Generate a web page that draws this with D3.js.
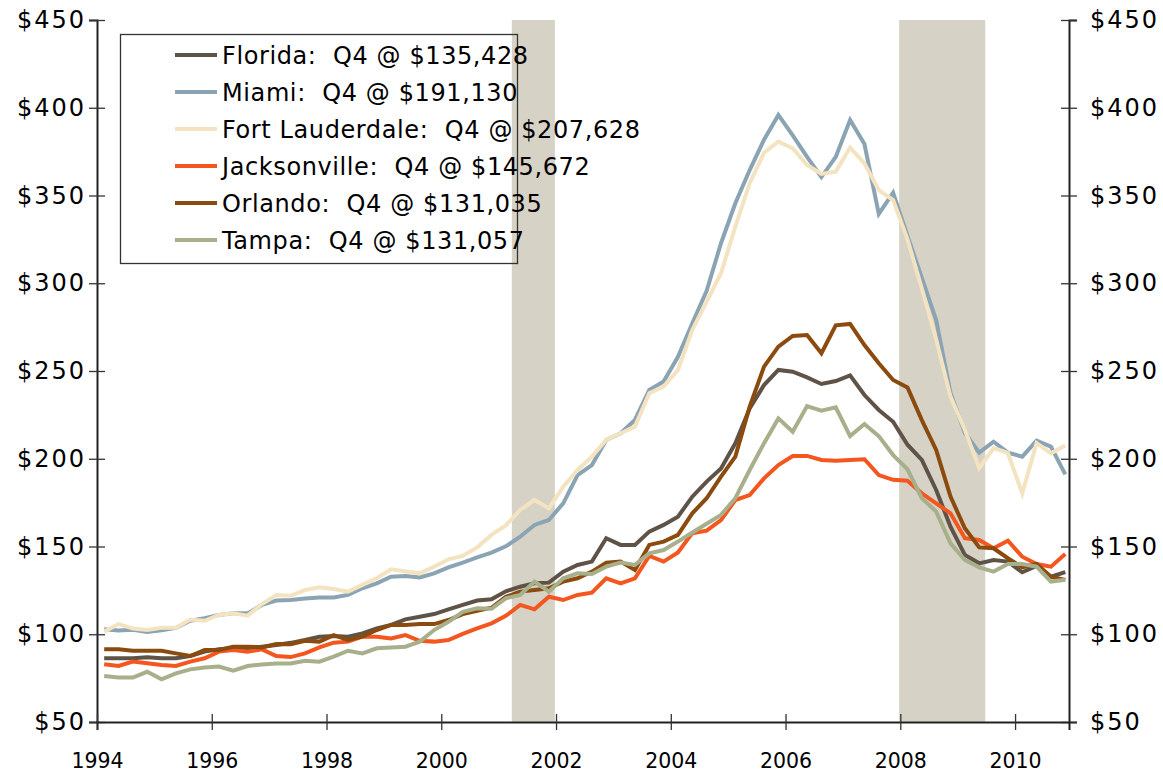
<!DOCTYPE html>
<html>
<head>
<meta charset="utf-8">
<script src="https://cdn.jsdelivr.net/npm/d3@7"></script>
<style>
  body { margin: 0; background: #fff; }
  svg text { font-family: "DejaVu Sans", Verdana, sans-serif; fill: #000; }
</style>
</head>
<body>
<svg id="chart" width="1163" height="779"></svg>
<script>
// quarterly median prices, $ thousands, 1994 Q1 .. 2010 Q4
const florida = [86.3, 86.3, 86.3, 86.9, 86.3, 86.3, 87.6, 90.1, 91.4, 92, 92, 92.9, 93.9, 95.1, 96.7, 98.6,
  99, 98.6, 100.5, 103.3, 105.3, 108.5, 110, 111.5, 114.2, 116.7, 119.2, 119.9, 124.5, 127.1, 129, 129.4,
  135.7, 139.5, 141.4, 154.7, 150.9, 150.9, 158.5, 162.3, 167, 178.4, 187, 194.5, 208.8, 228.7, 242, 250.6,
  249.6, 246.4, 242.6, 244.3, 247.5, 236.3, 227.8, 221.1, 208, 199.3, 182.2, 161.3, 145.2, 140.4, 142.3, 141.4,
  135.3, 138.9, 132.8, 135.4];
const miami = [102.8, 102.2, 102.5, 101.3, 102.2, 103.6, 107.7, 109.1, 111, 111.9, 111.9, 116.7, 119.2, 119.5, 120.4, 121,
  121, 122.4, 126.2, 129, 132.8, 133.2, 132.4, 134.7, 138.1, 140.8, 143.8, 146.5, 150.1, 155.6, 162.3, 165.1,
  174.6, 190.7, 196.4, 210.7, 214.5, 222.1, 239.2, 244, 258.1, 277.2, 295.7, 322.8, 345.6, 364.5, 381.8, 395.9,
  384.3, 372, 360.5, 372, 393, 379.3, 339.5, 351.6, 327, 303, 279, 237.5, 214.7, 203.5, 209.7, 203.5,
  201.2, 210.3, 206.9, 191.1];
const fortLauderdale = [101.5, 105.8, 103.3, 102.4, 103.7, 103.7, 108.4, 107.7, 111, 111.9, 110.6, 117.2, 122.4, 121.9, 125.2, 126.7,
  125.8, 124.3, 128.1, 131.9, 137, 135.7, 134.7, 138.5, 142.7, 144.6, 149.5, 156.6, 162, 170.8, 176.5, 171.7,
  184.1, 193.6, 201.2, 210.7, 214.5, 218.3, 237.3, 241.1, 250.6, 273.4, 289.5, 305.7, 332.2, 357, 374.4, 380.7,
  376.9, 367.4, 362.3, 363.6, 377.3, 368.3, 353.1, 347.4, 325, 297, 268, 235.4, 216.4, 194.7, 206, 203.3,
  180.3, 209, 203.1, 207.6];
const jacksonville = [82.9, 81.9, 84.4, 83.5, 82.5, 81.9, 84.4, 86.3, 90.1, 91, 90.1, 91.4, 87.6, 87, 89.1, 92.5,
  95.2, 95.8, 98.6, 98.6, 97.6, 99.5, 96.3, 95.8, 96.7, 100.2, 103.3, 106.2, 110.5, 116.7, 114.2, 121.4,
  119.5, 122.4, 123.7, 131.9, 129, 131.9, 144.6, 141.4, 146.6, 157.6, 159, 165.1, 176.5, 179.3, 188.8, 196.4,
  201.6, 201.6, 199.3, 198.9, 199.3, 199.7, 190.7, 188, 187.5, 180.3, 174.6, 168.9, 154.7, 153.7, 149, 153.3,
  144.2, 140, 138.5, 145.7];
const orlando = [91.4, 91.4, 90.6, 90.6, 90.6, 89.1, 87.6, 91, 91, 92.9, 92.9, 92.5, 94.4, 94.3, 96.3, 95.8,
  99.5, 96.7, 98.6, 102.4, 105.3, 105.3, 105.8, 105.8, 108.1, 111.5, 113.4, 115.1, 121.3, 124.3, 125.2, 126.2,
  130, 131.9, 135.7, 140.8, 141.4, 136.6, 150.9, 152.8, 156.6, 168.9, 177.5, 189.8, 201.2, 229.7, 252.5, 263.9,
  270, 270.5, 260.1, 276, 276.8, 264.8, 254.4, 244.9, 240.6, 222, 205, 178.4, 160.4, 149.5, 149, 143.3,
  138.1, 140, 132.8, 131.0];
const tampa = [76.2, 75.3, 75.3, 78.6, 74.3, 77.7, 80, 81.1, 81.6, 79.3, 81.9, 82.8, 83.4, 83.4, 84.9, 84.4,
  87.2, 90.6, 89.1, 92, 92.5, 92.9, 95.8, 102.4, 107.1, 112.8, 114.8, 114.5, 120.5, 122.4, 130, 124.3,
  131.9, 134.7, 134.3, 138.5, 140.8, 139.5, 146.1, 148, 152.8, 158, 163, 168, 177.5, 193.6, 208.8, 223,
  215.4, 230, 227.4, 229.3, 212.9, 219.8, 212.9, 202.1, 194, 177.5, 169.9, 151.8, 142.3, 138.1, 135.7, 140,
  140, 138.5, 130, 131.1];

const seriesNames = ["Florida", "Miami", "Fort Lauderdale", "Jacksonville", "Orlando", "Tampa"];
const seriesValues = [florida, miami, fortLauderdale, jacksonville, orlando, tampa];
const legendLabels = ["Florida:  Q4 @ $135,428", "Miami:  Q4 @ $191,130", "Fort Lauderdale:  Q4 @ $207,628",
  "Jacksonville:  Q4 @ $145,672", "Orlando:  Q4 @ $131,035", "Tampa:  Q4 @ $131,057"];
const colors = ["#5f5347", "#8aa4b4", "#f3e3c0", "#f4561f", "#8b4b0f", "#a8af8b"];

const yTicks = [50, 100, 150, 200, 250, 300, 350, 400, 450];
const xTicks = [1994, 1996, 1998, 2000, 2002, 2004, 2006, 2008, 2010];
const recessionStart = [2001.23, 2007.98];
const recessionEnd = [2001.98, 2009.48];

const firstYear = 1994;
const lastYear = 2010;

// mid-quarter time stamps
let quarters = [];
for (let y = firstYear; y <= lastYear; y++) {
    for (let q = 0; q < 4; q++) quarters.push(y + q / 4 + 0.125);
}

const plotLeft = 97, plotRight = 1069, plotTop = 20, plotBottom = 722;

let svg = d3.select("#chart");

let xScale = d3.scaleLinear()
    .domain([1994, 2010.94])
    .range([plotLeft, plotRight]);

let yScale = d3.scaleLinear()
    .domain([50, 450])
    .range([plotBottom, plotTop]);

// recession bands
svg.selectAll("rect.rec")
    .data(recessionStart)
    .enter()
    .append("rect")
    .attr("class", "rec")
    .attr("x", d => xScale(d))
    .attr("y", plotTop)
    .attr("width", (d, i) => xScale(recessionEnd[i]) - xScale(d))
    .attr("height", plotBottom - plotTop)
    .attr("fill", "#d6d2c6");

// axes
let yLeft = svg.append("g")
    .attr("transform", "translate(" + plotLeft + ",0)")
    .call(d3.axisLeft(yScale).tickValues(yTicks).tickFormat(d => "$" + d).tickSize(8).tickPadding(3));
let yRight = svg.append("g")
    .attr("transform", "translate(" + plotRight + ",0)")
    .call(d3.axisRight(yScale).tickValues(yTicks).tickFormat(d => "$" + d).tickSize(8).tickPadding(13));
let xAxis = svg.append("g")
    .attr("transform", "translate(0," + plotBottom + ")")
    .call(d3.axisBottom(xScale).tickValues(xTicks).tickFormat(d3.format("d")).tickSize(8).tickPadding(23));

[yLeft, yRight, xAxis].forEach(function(g) {
    g.select("path.domain").attr("stroke", "#222").attr("stroke-width", 2);
    g.selectAll(".tick line").attr("stroke", "#333").attr("stroke-width", 1.3);
    g.selectAll("text")
        .style("font-family", "DejaVu Sans, Verdana, sans-serif")
        .style("font-size", "24px")
        .style("letter-spacing", "2px")
        .attr("fill", "#000");
});
// ticks cross the axis lines
yLeft.selectAll(".tick line").attr("x1", 8).attr("x2", -8);
yRight.selectAll(".tick line").attr("x1", -8).attr("x2", 8);
xAxis.selectAll(".tick line").attr("y1", -8).attr("y2", 8);
xAxis.selectAll("text").style("font-size", "20.5px").style("letter-spacing", "0px");

// lines
let line = d3.line()
    .x((d, i) => xScale(quarters[i]))
    .y(d => yScale(d));

seriesValues.forEach(function(vals, k) {
    svg.append("path")
        .datum(vals)
        .attr("d", line)
        .attr("fill", "none")
        .attr("stroke", colors[k])
        .attr("stroke-width", 4)
        .attr("stroke-linejoin", "miter");
});

// legend
svg.append("rect")
    .attr("x", 120.5)
    .attr("y", 34.5)
    .attr("width", 397)
    .attr("height", 229)
    .attr("fill", "none")
    .attr("stroke", "#333")
    .attr("stroke-width", 1.3);

legendLabels.forEach(function(label, k) {
    let cy = 55 + k * 37;
    svg.append("line")
        .attr("x1", 175).attr("x2", 217)
        .attr("y1", cy).attr("y2", cy)
        .attr("stroke", colors[k])
        .attr("stroke-width", 4);
    svg.append("text")
        .attr("x", 222)
        .attr("y", cy + 9)
        .style("font-size", "24px")
        .style("letter-spacing", "0.6px")
        .style("white-space", "pre")
        .text(label);
});
</script>
</body>
</html>
